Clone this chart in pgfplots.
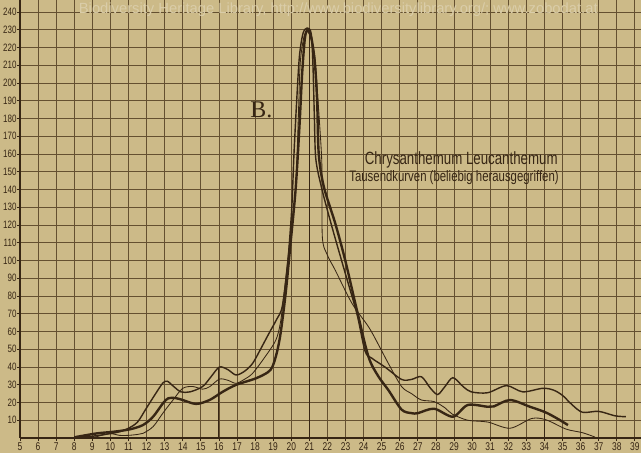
\documentclass[border=0pt]{standalone}
\usepackage{pgfplots}
\pgfplotsset{compat=1.18}
\usepackage{fontspec}
\setmainfont{Liberation Serif}
\newfontfamily\labfont[FakeStretch=0.75]{Liberation Sans}
\definecolor{paper}{RGB}{204,186,136}
\definecolor{ink}{RGB}{55,38,20}
\definecolor{gridc}{RGB}{100,80,48}

\begin{document}
\begin{tikzpicture}
\fill[paper] (-0.5,-0.375) rectangle (15.525,10.95);
\begin{axis}[
    at={(0,0)}, anchor=south west,
    scale only axis,
    width=15.525cm, height=10.95cm,
    xmin=5, xmax=39.34, ymin=0, ymax=246.8,
    xtick={5,...,39},
    ytick={10,20,...,240},
    grid=major,
    major grid style={gridc, line width=0.6pt},
    axis lines*=left,
    axis line style={ink, line width=0.9pt},
    tick style={ink, line width=0.6pt},
    major tick length=2pt,
    tick align=outside,
    /pgf/number format/assume math mode=true,
    tick label style={font=\labfont\fontsize{8}{8}\selectfont, text=ink},
    xticklabel style={inner sep=1pt},
    yticklabel style={inner sep=0.3pt, font=\labfont\fontsize{7.6}{7.6}\selectfont},
    clip=false,
]
% watermark of the scan
\node[text=paper!72!white, font=\fontspec{Liberation Sans}\fontsize{10.5}{10.5}\selectfont, inner sep=0pt]
    at (axis cs:22.6,241.5) {Biodiversity Heritage Library, http://www.biodiversitylibrary.org/; www.zobodat.at};

% ordinates
\addplot[ink, line width=0.9pt] coordinates {(21,0) (21,231)};
\addplot[ink, line width=0.7pt] coordinates {(16,0) (16,40)};
\addplot[ink, line width=0.7pt] coordinates {(34,0) (34,28)};

% curve A (medium)
\addplot[ink, line width=1.0pt, smooth, tension=0.5] coordinates {
(8,0.3) (9,1) (10,2.5) (10.5,3.5) (11,5.5) (11.5,9) (12,17) (12.5,25) (12.9,31)
(13.15,32) (13.5,29) (13.9,26) (14.4,26) (15.1,29) (15.6,35) (16.03,40) (16.5,38.5)
(16.94,35.5) (17.4,37.5) (17.86,42) (18.3,50) (18.77,59) (19.2,67) (19.5,74)
(19.78,96) (19.96,119) (20.05,134) (20.15,160) (20.3,190) (20.45,215) (20.65,228)
(20.88,231) (21.1,228) (21.2,210) (21.28,180) (21.36,157) (21.7,140) (22.25,119)
(22.98,93) (23.63,70) (24.08,49) (24.45,45) (25.18,40) (26.1,33) (26.65,33)
(27.2,34.5) (27.7,28) (28.1,24.5) (28.5,29) (28.94,34) (29.5,29) (29.95,26)
(30.86,25.5) (31.9,29.5) (32.8,26) (33.9,28) (34.5,27) (35,24) (35.5,19)
(36.1,14.5) (37,15) (37.9,12.5) (38.5,12)
};

% curve B (thin)
\addplot[ink, line width=0.6pt, smooth, tension=0.5] coordinates {
(8,0.3) (9,0.3) (9.5,1.5) (10,2.5) (10.5,1.5) (11,1.5) (11.5,2) (11.8,2.6)
(12.36,6.4) (12.9,14) (13.46,21.4) (14.0,28) (14.56,29) (15.1,27.5) (15.5,29)
(16.03,33.2) (16.5,32.5) (16.94,30.8) (17.4,33) (17.86,36.4) (18.5,45) (19.14,55)
(19.4,65) (19.6,81.5) (19.96,115) (20.24,140) (20.33,162) (20.42,190) (20.5,212)
(20.7,226) (20.88,229) (21.05,226) (21.3,215) (21.48,190) (21.66,162) (21.7,148)
(21.72,113) (22.0,103) (22.43,94.6) (23.35,76) (24.27,62.7) (24.8,53) (25.37,42)
(26.1,29) (26.65,25) (27.2,21.4) (27.9,20.5) (28.5,17) (28.9,13.5) (29.76,10)
(30.86,9) (32.1,5.5) (33.3,11) (34.1,10.2) (35.2,5) (36.1,3) (36.8,0.5)
};

% curve C (thick)
\addplot[ink, line width=1.7pt, smooth, tension=0.5] coordinates {
(8,0.4) (9.25,2.6) (10.16,3.5) (11.08,4.9) (11.8,7.3) (12.36,12) (12.9,19.5)
(13.2,22.4) (13.6,22.5) (14.0,21.4) (14.74,19.2) (15.48,21.4) (16.2,26) (16.94,29.9)
(18.04,33.6) (18.7,37) (18.96,40.2) (19.2,48) (19.41,59) (19.69,81.5) (19.96,109.7)
(20.24,140) (20.45,175) (20.6,205) (20.75,225) (20.9,230) (21.1,226) (21.3,212)
(21.43,190) (21.52,160) (21.8,141.6) (22.43,121) (22.98,100.3) (23.63,72)
(24.27,45.8) (24.8,35) (25.37,27) (26.1,16) (26.65,14) (27.0,14) (27.9,16.5)
(28.94,12) (29.76,18.6) (30.86,17.6) (31.2,17.8) (32.1,21.4) (33.2,17.6)
(34.05,14.5) (34.7,11) (35.3,7.3)
};

% labels
\node[text=ink, font=\fontsize{17}{17}\selectfont] at (axis cs:18.35,184.8) {B.};
\node[text=ink, font=\labfont\fontsize{12.6}{12.6}\selectfont] at (axis cs:29.4,156.6) {Chrysanthemum Leucanthemum};
\node[text=ink, font=\labfont\fontsize{10.8}{10.8}\selectfont] at (axis cs:29.0,146.5) {Tausendkurven (beliebig herausgegriffen)};
\end{axis}
\pgfresetboundingbox
\path[use as bounding box] (-0.5,-0.375) rectangle (15.525,10.95);
\end{tikzpicture}
\end{document}
